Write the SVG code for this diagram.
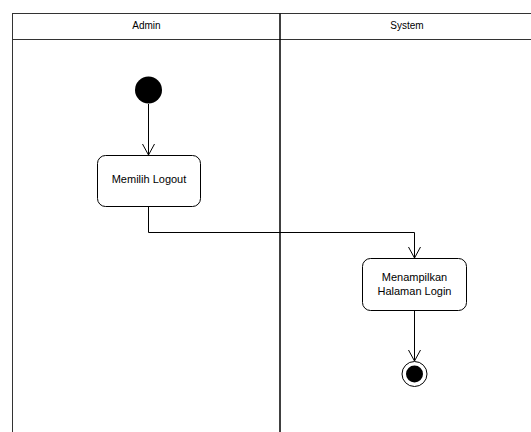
<svg xmlns="http://www.w3.org/2000/svg" width="531" height="432" viewBox="0 0 531 432">
  <defs>
    <!-- open V arrowhead, drawn along +x so orient="auto" follows the line -->
    <marker id="open-arrow" markerWidth="14" markerHeight="14" refX="12" refY="7" orient="auto" markerUnits="userSpaceOnUse" viewBox="0 0 14 14">
      <path d="M1,1 L12,7 L1,13" fill="none" stroke="#000" stroke-width="1"/>
    </marker>
  </defs>
  <style>
    .lane { fill: none; stroke: #333; stroke-width: 1; }
    .divider { stroke: #000; stroke-width: 1.5; }
    .head { font-family: "Liberation Sans", Arial, sans-serif; font-size: 10px; fill: #000; text-anchor: middle; }
    .action { fill: #fff; stroke: #000; stroke-width: 1; }
    .label { font-family: "Liberation Sans", Arial, sans-serif; font-size: 11px; fill: #000; text-anchor: middle; }
    .edge { fill: none; stroke: #000; stroke-width: 1; }
  </style>
  <rect width="531" height="432" fill="#fff"/>

  <!-- swimlanes -->
  <g id="lanes">
    <rect class="lane" x="12.5" y="13.5" width="530" height="430"/>
    <line class="lane" x1="12.5" y1="39.5" x2="531" y2="39.5"/>
    <line class="divider" x1="280" y1="13.5" x2="280" y2="432"/>
    <text class="head" x="146.5" y="29">Admin</text>
    <text class="head" x="407" y="29">System</text>
  </g>

  <!-- connectors -->
  <g id="edges">
    <path class="edge" d="M148.5,104 L148.5,155" marker-end="url(#open-arrow)"/>
    <path class="edge" d="M148.5,207 L148.5,232.5 L414.5,232.5 L414.5,258" marker-end="url(#open-arrow)"/>
    <path class="edge" d="M414.5,311 L414.5,361" marker-end="url(#open-arrow)"/>
  </g>

  <g id="start">
    <circle cx="148.5" cy="90" r="13.5" fill="#000"/>
  </g>

  <g id="memilih-logout">
    <rect class="action" x="97.5" y="155.5" width="103" height="51" rx="8"/>
    <text class="label" x="149" y="183">Memilih Logout</text>
  </g>

  <g id="menampilkan-halaman-login">
    <rect class="action" x="362.5" y="258.5" width="104" height="52" rx="8"/>
    <text class="label" x="414.5" y="280.5">Menampilkan</text>
    <text class="label" x="414.5" y="294.5">Halaman Login</text>
  </g>

  <g id="end">
    <circle cx="414.5" cy="374" r="12.5" fill="#fff" stroke="#000" stroke-width="1"/>
    <circle cx="414.5" cy="374" r="8.5" fill="#000"/>
  </g>
</svg>
